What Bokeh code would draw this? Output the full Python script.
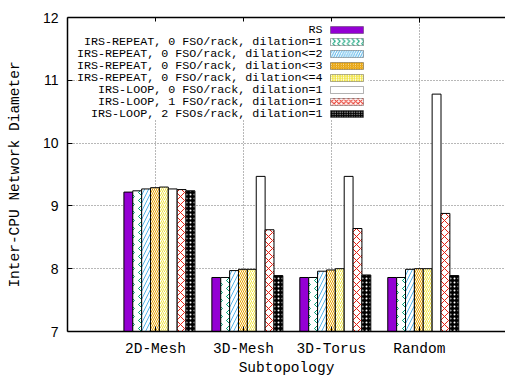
from bokeh.plotting import figure
from bokeh.models import (Range1d, FixedTicker, LinearAxis, Label, BoxAnnotation)
from bokeh.embed import file_html
from bokeh.resources import INLINE

categories = ["2D-Mesh", "3D-Mesh", "3D-Torus", "Random"]
series_names = [
    "RS",
    "IRS-REPEAT, 0 FSO/rack, dilation=1",
    "IRS-REPEAT, 0 FSO/rack, dilation<=2",
    "IRS-REPEAT, 0 FSO/rack, dilation<=3",
    "IRS-REPEAT, 0 FSO/rack, dilation<=4",
    "IRS-LOOP, 0 FSO/rack, dilation=1",
    "IRS-LOOP, 1 FSO/rack, dilation=1",
    "IRS-LOOP, 2 FSOs/rack, dilation=1",
]
rs = [9.22, 7.86, 7.86, 7.86]
rep_d1 = [9.24, 7.86, 7.86, 7.86]
rep_d2 = [9.27, 7.97, 7.96, 7.99]
rep_d3 = [9.29, 7.99, 7.98, 8.00]
rep_d4 = [9.30, 7.99, 8.00, 8.00]
loop_0 = [9.27, 9.47, 9.47, 10.78]
loop_1 = [9.26, 8.62, 8.64, 8.88]
loop_2 = [9.24, 7.89, 7.90, 7.89]
y_ticks = [7, 8, 9, 10, 11, 12]
all_series = [rs, rep_d1, rep_d2, rep_d3, rep_d4, loop_0, loop_1, loop_2]

styles = [
    dict(fill_color="#9400D3", hatch_pattern=None, hatch_color=None, hatch_scale=8),
    dict(fill_color="white", hatch_pattern=">", hatch_color="#009E73", hatch_scale=8),
    dict(fill_color="white", hatch_pattern="/", hatch_color="#56B4E9", hatch_scale=8),
    dict(fill_color="white", hatch_pattern="\\", hatch_color="#E69F00", hatch_scale=4),
    dict(fill_color="white", hatch_pattern="/", hatch_color="#F0E442", hatch_scale=4),
    dict(fill_color="white", hatch_pattern=None, hatch_color=None, hatch_scale=8),
    dict(fill_color="white", hatch_pattern="x", hatch_color="#E51E10", hatch_scale=8),
    dict(fill_color="black", hatch_pattern=".", hatch_color="white", hatch_scale=4),
]

FRAME_W, FRAME_H = 438, 314
X_END = 4.98
p = figure(frame_width=FRAME_W, frame_height=FRAME_H, output_backend="svg", toolbar_location=None,
           x_range=Range1d(0, X_END), y_range=Range1d(7, 12),
           min_border_left=67, min_border_top=17, min_border_bottom=45, min_border_right=0)
p.outline_line_color = None
p.background_fill_color = "white"

n = len(all_series)
w = 0.1009
off = 0.045
for j, (vals, st) in enumerate(zip(all_series, styles)):
    xs = [i + 1 + (j - (n - 1) / 2) * w + off for i in range(len(categories))]
    kw = dict(fill_color=st["fill_color"], line_color="black", line_width=1)
    if st["hatch_pattern"]:
        kw.update(hatch_pattern=st["hatch_pattern"], hatch_color=st["hatch_color"],
                  hatch_scale=st["hatch_scale"], hatch_weight=1)
    p.vbar(x=xs, top=vals, bottom=7, width=w, **kw)

mono = "Liberation Mono"
xa = p.xaxis[0]
xa.ticker = FixedTicker(ticks=[1, 2, 3, 4])
xa.major_label_overrides = {i + 1: c for i, c in enumerate(categories)}
xa.axis_label = "Subtopology"
ya = p.yaxis[0]
ya.ticker = FixedTicker(ticks=y_ticks)
ya.axis_label = "Inter-CPU Network Diameter"
for ax in (xa, ya):
    ax.axis_line_width = 1.5
    ax.axis_line_color = "black"
    ax.major_tick_in = 5
    ax.major_tick_out = 0
    ax.minor_tick_line_color = None
    ax.axis_label_text_font = mono
    ax.axis_label_text_font_style = "normal"
    ax.axis_label_text_font_size = "14.5px"
    ax.axis_label_text_color = "black"
    ax.major_label_text_color = "black"
xa.major_label_text_font = mono
xa.major_label_text_font_size = "14.5px"
xa.major_label_standoff = 9
xa.axis_label_standoff = 0
ya.major_label_text_font = "Liberation Sans"
ya.major_label_text_font_size = "14px"
ya.major_label_standoff = 9
ya.axis_label_standoff = 17

top = LinearAxis(ticker=FixedTicker(ticks=[1, 2, 3, 4]),
                 major_label_overrides={1: "", 2: "", 3: "", 4: ""},
                 major_label_standoff=0, major_tick_in=5, major_tick_out=0,
                 minor_tick_line_color=None, axis_line_width=1.5)
p.add_layout(top, "above")

for g in (p.xgrid[0], p.ygrid[0]):
    g.grid_line_color = "#707070"
    g.grid_line_dash = "1 2"
    g.grid_line_width = 1
p.xgrid[0].ticker = FixedTicker(ticks=[1, 2, 3, 4])
p.ygrid[0].ticker = FixedTicker(ticks=[8, 9, 10, 11])

# legend (gnuplot style: label right-aligned, swatch to the right)
FL, FT = 67.0, 17.0
PXU = FRAME_W / X_END
PYU = FRAME_H / 5.0
def dx(px):
    return (px - FL) / PXU
def dy(py):
    return 12 - (py - FT) / PYU

p.add_layout(BoxAnnotation(left=dx(76), right=dx(368), top=dy(21), bottom=dy(119),
                           fill_color="white", fill_alpha=1, line_color=None))
for k, (name, st) in enumerate(zip(series_names, styles)):
    cy = 29.5 + k * 12.0
    p.add_layout(Label(x=dx(322), y=dy(cy), text=name, text_align="right",
                       text_baseline="middle", text_font=mono, text_font_size="11.7px",
                       text_color="black"))
    kw = dict(left=dx(330), right=dx(363), top=dy(cy - 3.5), bottom=dy(cy + 3.5),
              fill_color=st["fill_color"], fill_alpha=1, line_color="black", line_width=1)
    if st["hatch_pattern"]:
        kw.update(hatch_pattern=st["hatch_pattern"], hatch_color=st["hatch_color"],
                  hatch_scale=st["hatch_scale"] * 0.6, hatch_weight=1)
    p.add_layout(BoxAnnotation(**kw))

open("out.html", "w").write(file_html(p, INLINE))
